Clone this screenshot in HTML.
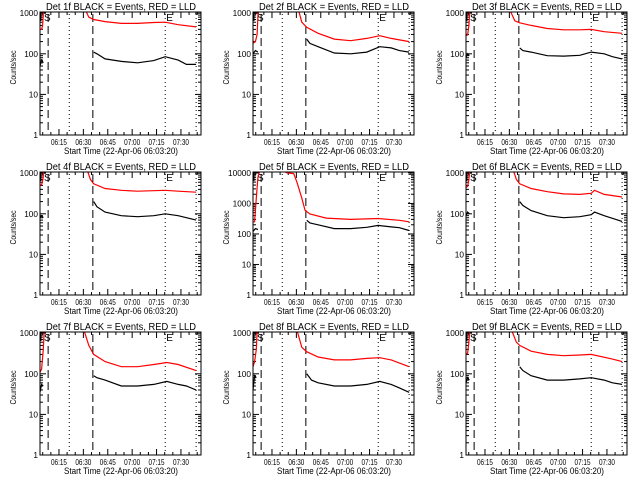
<!DOCTYPE html>
<html><head><meta charset="utf-8">
<style>
html,body{margin:0;padding:0;background:#fff;}
svg{display:block;font-family:"Liberation Sans",sans-serif;}
</style></head>
<body>
<svg id="chart" width="640" height="480" viewBox="0 0 640 480" xmlns="http://www.w3.org/2000/svg">
<rect width="640" height="480" fill="#fff"/>
</svg>
<script>
// Data: times in minutes after 06:03:20; values in counts/sec
const panelTitles = ["Det 1f","Det 2f","Det 3f","Det 4f","Det 5f","Det 6f","Det 7f","Det 8f","Det 9f"];
const panelDecades = [3,3,3,3,4,3,3,3,3];
const xTickLabels = ["06:15","06:30","06:45","07:00","07:15","07:30"];
const xTickMinutes = [11.67,26.67,41.67,56.67,71.67,86.67];
const dashedLines = [5,32.5];
const dottedLines = [18,77,96];

const redPreT = [
 [0,1,1.6,2.2],[0,1.5,2.5,3.2],[0,1,1.8,2.4],[0,1,1.8,2.4],[0,1,2,3,4,4.5],
 [0,1,1.8,2.4],[0,1,2,2.6],[0,1,2,2.6],[0,1,1.8,2.4]];
const redPreV = [
 [400,400,500,1200],[180,200,300,1200],[280,290,500,1200],[500,520,700,1200],[250,250,1500,7000,11000,12000],
 [450,470,700,1200],[110,130,400,1200],[150,200,400,1200],[300,320,600,1200]];
const redPostT = [
 [28,30,33,40,50,60,70,77,85,96],
 [28,30,33,40,50,60,70,78,85,96],
 [27,30,33,40,50,60,70,77,85,96],
 [29,31,33,40,50,60,70,77,85,96],
 [18,21,25,27,30,32,35,45,60,77,90,96],
 [29,31,33,40,50,60,70,77,79,85,96],
 [27,30,33,40,50,60,70,78,85,96],
 [27,30,33,40,50,60,70,78,85,96],
 [28,31,33,40,50,60,70,77,90,96]];
const redPostV = [
 [1200,800,700,620,560,560,590,600,520,460],
 [1200,600,450,320,230,210,240,280,240,200],
 [1200,650,580,500,420,390,390,400,350,320],
 [1200,700,550,420,380,360,370,380,360,340],
 [12000,10000,9500,5000,1500,600,450,330,300,320,280,250],
 [1200,700,550,420,350,310,300,320,380,300,260],
 [1200,500,300,200,150,150,170,190,170,120],
 [1200,450,350,260,220,220,240,250,220,150],
 [1200,600,500,360,300,280,290,300,230,200]];
const blackPreT = [[0,1,2],[0,1.5,3],[0,1,2],[0,1,2],[0,1.5,3],[0,1,2],[0,1,2],[0,1,2],[0,1,2]];
const blackPreV = [[50,70,60],[100,120,110],[80,100,90],[80,90,80],[120,150,140],[90,110,100],[35,55,50],[40,90,80],[60,80,70]];
const blackPostT = [
 [33,35,40,50,60,70,77,85,90,96],
 [33,35,40,50,60,70,78,85,90,96],
 [33,35,40,50,60,70,77,85,90,96],
 [33,35,40,50,60,70,77,85,90,96],
 [33,35,40,50,60,70,77,85,90,96],
 [33,35,40,50,60,70,77,79,85,96],
 [33,35,40,50,60,70,78,85,90,96],
 [33,36,40,50,60,70,78,85,90,96],
 [33,35,40,50,60,70,77,85,90,96]];
const blackPostV = [
 [110,100,75,65,60,68,85,70,55,55],
 [230,180,150,105,100,110,150,140,120,110],
 [140,120,110,90,88,92,110,100,85,75],
 [200,150,110,90,85,90,100,90,80,70],
 [280,230,200,150,150,165,190,170,160,130],
 [200,160,120,90,80,85,95,110,90,65],
 [90,80,70,50,50,55,65,55,50,40],
 [100,70,60,50,50,55,65,55,45,35],
 [150,120,90,70,70,75,80,70,60,55]];

const NS="http://www.w3.org/2000/svg";
const svg=document.getElementById('chart');
function mk(tag,attrs,parent){const e=document.createElementNS(NS,tag);for(const k in attrs)e.setAttribute(k,attrs[k]);(parent||svg).appendChild(e);return e;}

const PW=161, PH=123, TMAX=99;
for(let p=0;p<9;p++){
  const col=p%3,row=Math.floor(p/3);
  const x0=40+col*213, y0=12+row*160, y1=y0+PH;
  const dec=panelDecades[p];
  const xs=t=>x0+t/TMAX*PW;
  const ys=v=>y1-Math.log10(Math.max(v,1e-3))/ (dec+0.03) *PH;
  const g=mk('g',{});
  
  
  const cid='clip'+p;
  const cp=mk('clipPath',{id:cid},g);mk('rect',{x:x0,y:y0,width:PW,height:PH},cp);
  const tt=mk('text',{x:x0+6,y:y0-2,'font-size':'10',textLength:'150',lengthAdjust:'spacingAndGlyphs'},g);
  tt.textContent=panelTitles[p]+" BLACK = Events, RED = LLD";
  
  
  const yl=mk('text',{x:0,y:0,'text-anchor':'middle','font-size':'8',textLength:'34',lengthAdjust:'spacingAndGlyphs',transform:`translate(${x0-24},${y0+PH/2-6}) rotate(-90)`},g);
  yl.textContent="Counts/sec";
  
  
  const xl=mk('text',{x:x0+24,y:y1+19,'font-size':'9',textLength:'114',lengthAdjust:'spacingAndGlyphs'},g);
  xl.textContent="Start Time (22-Apr-06 06:03:20)";
  
  
  for(let d=0;d<=dec;d++){
    const y=ys(Math.pow(10,d));
    mk('line',{x1:x0,x2:x0+6,y1:y,y2:y,stroke:'#000'},g);
    mk('line',{x1:x0+PW,x2:x0+PW-6,y1:y,y2:y,stroke:'#000'},g);
    const s=String(Math.pow(10,d));
    const lb=mk('text',{x:x0-2,y:y+3,'text-anchor':'end','font-size':'8.5',textLength:String(s.length*4.6),lengthAdjust:'spacingAndGlyphs'},g);
    lb.textContent=s;
    
    
    if(d<dec)for(let m=2;m<10;m++){const ym=ys(m*Math.pow(10,d));
      mk('line',{x1:x0,x2:x0+3,y1:ym,y2:ym,stroke:'#000'},g);
      mk('line',{x1:x0+PW,x2:x0+PW-3,y1:ym,y2:ym,stroke:'#000'},g);}
  }
  for(let t=1.67;t<TMAX;t+=5){const x=xs(t);const maj=Math.abs(((t-11.67)%15+15)%15)<0.1;
    const L=maj?6:3;
    mk('line',{x1:x,x2:x,y1:y1,y2:y1-L,stroke:'#000'},g);
    mk('line',{x1:x,x2:x,y1:y0,y2:y0+L,stroke:'#000'},g);}
  xTickLabels.forEach((s,i)=>{const lb=mk('text',{x:xs(xTickMinutes[i]),y:y1+10,'text-anchor':'middle','font-size':'8.5',textLength:'16',lengthAdjust:'spacingAndGlyphs'},g);
    lb.textContent=s;
    
    });
  dashedLines.forEach(t=>mk('line',{x1:xs(t),x2:xs(t),y1:y0+2,y2:y1-2,stroke:'#000','stroke-dasharray':'8,4'},g));
  dottedLines.forEach(t=>mk('line',{x1:xs(t),x2:xs(t),y1:y0+2,y2:y1-2,stroke:'#000','stroke-dasharray':'1,3'},g));
  mk('polyline',{points:`${x0+1},${y0+9} ${x0+1},${y0+1} ${x0+6},${y0+1}`,fill:'none',stroke:'#000'},g);
  const sm=mk('text',{x:x0+4,y:y0+9,'font-size':'10'},g);sm.textContent="S";
  
  const em=mk('text',{x:xs(77)+1,y:y0+9,'font-size':'10'},g);em.textContent="E";
  
  const series=[[redPreT[p],redPreV[p],'#f00','red-lld-pre'],[redPostT[p],redPostV[p],'#f00','red-lld'],
                [blackPreT[p],blackPreV[p],'#000','black-events-pre'],[blackPostT[p],blackPostV[p],'#000','black-events']];
  series.forEach(([T,V,c,n])=>{
    const pts=T.map((t,i)=>xs(t).toFixed(1)+','+ys(V[i]).toFixed(1)).join(' ');
    const pl=mk('polyline',{points:pts,fill:'none',stroke:c,'stroke-width':'1.2','clip-path':`url(#${cid})`},g);
    
    
  });
  mk('rect',{x:x0,y:y0,width:PW,height:PH,fill:'none',stroke:'#000'},g);
}
</script>
</body></html>
